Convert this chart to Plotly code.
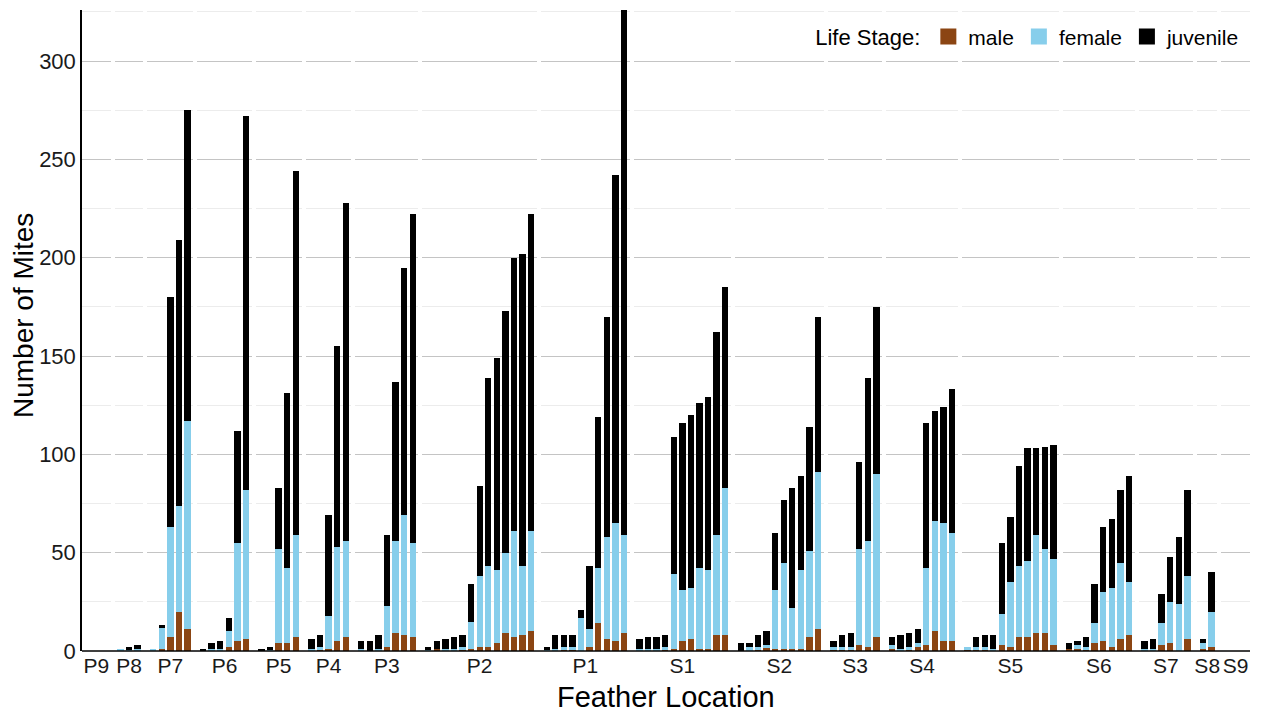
import plotly.graph_objects as go
from plotly.subplots import make_subplots

# ---------------- data ----------------
locations = ["P9", "P8", "P7", "P6", "P5", "P4", "P3", "P2", "P1",
             "S1", "S2", "S3", "S4", "S5", "S6", "S7", "S8", "S9"]

male = [
    [0, 0, 0],
    [0, 0, 0],
    [0, 1, 7, 20, 11],
    [0, 0, 0, 2, 5, 6],
    [0, 0, 4, 4, 7],
    [0, 1, 1, 5, 7],
    [0, 0, 0, 2, 9, 8, 7],
    [0, 1, 0, 0, 1, 1, 2, 2, 4, 9, 7, 8, 10],
    [0, 0, 1, 1, 0, 2, 14, 6, 5, 9],
    [0, 0, 0, 1, 1, 5, 6, 1, 1, 8, 8],
    [0, 0, 1, 2, 1, 1, 1, 1, 7, 11],
    [1, 1, 1, 3, 2, 7],
    [1, 0, 1, 2, 3, 10, 5, 5],
    [1, 1, 1, 0, 3, 2, 7, 7, 9, 9, 3],
    [1, 1, 1, 4, 5, 2, 6, 8],
    [0, 0, 3, 4, 0, 6],
    [1, 2],
    [0, 0, 0],
]

female = [
    [0, 0, 0],
    [1, 1, 1],
    [1, 11, 56, 54, 106],
    [0, 1, 1, 8, 50, 76],
    [0, 1, 48, 38, 52],
    [1, 1, 17, 48, 49],
    [1, 0, 1, 21, 47, 61, 48],
    [1, 0, 1, 1, 1, 14, 36, 41, 37, 41, 54, 35, 51],
    [1, 1, 1, 1, 17, 9, 28, 52, 60, 50],
    [1, 1, 1, 1, 38, 26, 26, 41, 40, 51, 75],
    [0, 2, 1, 1, 30, 44, 21, 40, 44, 80],
    [1, 1, 1, 49, 54, 83],
    [2, 1, 1, 2, 39, 56, 60, 55],
    [1, 1, 1, 1, 16, 33, 36, 39, 50, 43, 44],
    [0, 2, 1, 10, 25, 30, 39, 27],
    [1, 1, 11, 21, 24, 32],
    [3, 18],
    [0, 0, 0],
]

juvenile = [
    [0, 0, 0],
    [0, 1, 2],
    [0, 1, 117, 135, 158],
    [1, 3, 4, 7, 57, 190],
    [1, 1, 31, 89, 185],
    [5, 6, 51, 102, 172],
    [4, 5, 7, 36, 81, 126, 167],
    [1, 4, 5, 6, 6, 19, 46, 96, 108, 123, 139, 159, 161],
    [1, 7, 6, 6, 4, 32, 77, 112, 177, 290],
    [5, 6, 6, 6, 70, 85, 88, 84, 88, 103, 102],
    [4, 2, 6, 7, 29, 32, 61, 48, 63, 79],
    [3, 6, 7, 44, 83, 85],
    [4, 7, 7, 7, 74, 56, 59, 73],
    [0, 5, 6, 7, 36, 33, 51, 57, 44, 52, 58],
    [3, 2, 5, 20, 33, 35, 37, 54],
    [4, 5, 15, 23, 34, 44],
    [2, 20],
    [0, 0, 0],
]

stage_names = ["male", "female", "juvenile"]
stage_colors = ["#8B4513", "#87CEEB", "#000000"]

y_ticks = [0, 50, 100, 150, 200, 250, 300]

# ---------------- figure ----------------
FONT = "Liberation Sans, Arial, Helvetica, sans-serif"
PAD = 0.35  # extra panel space (in bar slots)
n_panels = len(locations)
counts = [len(m) for m in male]
widths = [n + PAD for n in counts]

fig = make_subplots(rows=1, cols=n_panels, shared_yaxes=True,
                    column_widths=widths, horizontal_spacing=0.0034)

series = [male, female, juvenile]
for i, loc in enumerate(locations):
    n = counts[i]
    xs = list(range(1, n + 1))
    for name, data, color in zip(stage_names, series, stage_colors):
        fig.add_trace(
            go.Bar(x=xs, y=data[i], name=name, legendgroup=name,
                   showlegend=False, width=0.74,
                   marker=dict(color=color, line=dict(width=0))),
            row=1, col=i + 1)
    fig.update_xaxes(range=[0.5 - PAD / 2, n + 0.5 + PAD / 2],
                     tickmode="array", tickvals=[(n + 1) / 2],
                     ticktext=[loc], showgrid=False, zeroline=False,
                     ticks="", showline=False, fixedrange=True,
                     tickfont=dict(size=21, color="#1a1a1a", family=FONT),
                     row=1, col=i + 1)

# legend keys (square swatches)
for name, color in zip(stage_names, stage_colors):
    fig.add_trace(
        go.Scatter(x=[None], y=[None], mode="markers", name=name,
                   legendgroup=name, showlegend=True,
                   marker=dict(symbol="square", size=16, color=color,
                               line=dict(width=0))),
        row=1, col=1)

fig.update_yaxes(range=[0, 326], tickmode="array", tickvals=y_ticks,
                 showgrid=True, gridcolor="#c4c4c4", gridwidth=1,
                 zeroline=False, ticks="",
                 minor=dict(tickmode="linear", tick0=25, dtick=50,
                            showgrid=True, gridcolor="#ececec", gridwidth=1),
                 tickfont=dict(size=22, color="#1a1a1a", family=FONT))
fig.update_yaxes(showline=True, linecolor="black", linewidth=1.5,
                 row=1, col=1)

fig.add_shape(type="line", xref="paper", yref="paper", x0=0, x1=1, y0=0, y1=0,
              line=dict(color="black", width=1.5), layer="above")

fig.add_annotation(text="Number of Mites", xref="paper", yref="paper",
                   x=-0.0505, y=0.5226, xanchor="center", yanchor="middle",
                   textangle=-90, showarrow=False,
                   font=dict(size=28, color="black", family=FONT))

fig.add_annotation(text="Feather Location", xref="paper", yref="paper",
                   x=0.5, y=-0.072, xanchor="center", yanchor="middle",
                   showarrow=False, font=dict(size=29, color="black", family=FONT))

fig.update_layout(
    width=1262, height=717,
    margin=dict(l=82, r=12, t=10, b=66),
    barmode="stack", bargap=0.28,
    plot_bgcolor="white", paper_bgcolor="white",
    font=dict(family=FONT, color="black"),
    legend=dict(orientation="h", x=0.995, xanchor="right", y=0.99,
                yanchor="top", bgcolor="rgba(255,255,255,0)",
                itemsizing="trace",
                title=dict(text="Life Stage:", side="left",
                           font=dict(size=22, family=FONT)),
                font=dict(size=21, family=FONT), traceorder="normal"),
)

fig.write_html("out.html")
